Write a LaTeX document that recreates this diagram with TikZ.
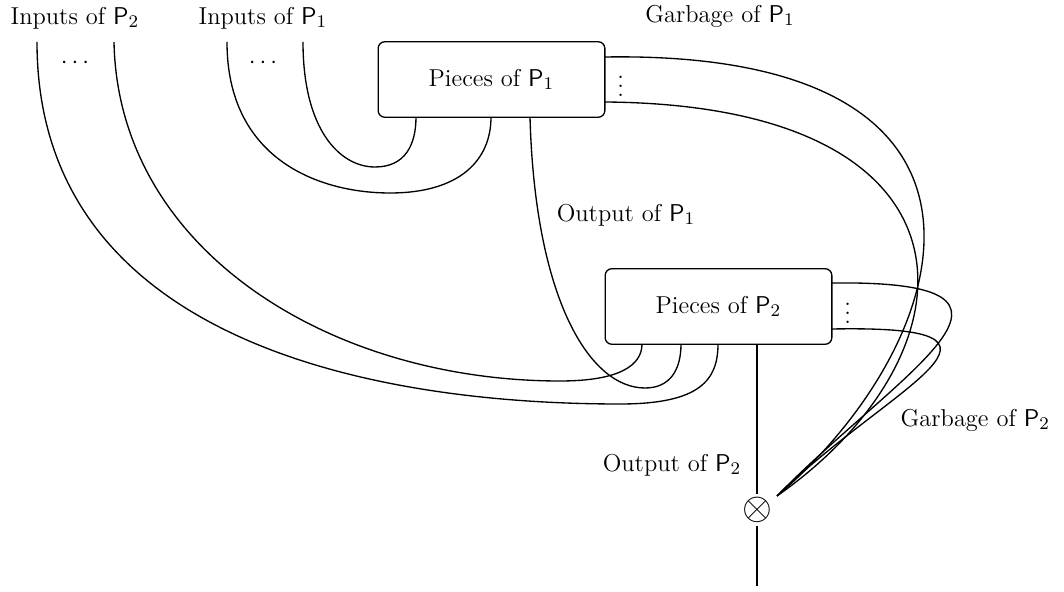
\documentclass[tikz,border=0pt]{standalone}
\usetikzlibrary{positioning}
\begin{document}
\begin{tikzpicture}[
	x=0.45pt,
	y=-0.45pt,
	font=\fontsize{11}{13}\selectfont,
	line width=0.6pt,
	kasten/.style={
		draw,
		rounded corners=3pt,
		minimum width=102pt,
		minimum height=34pt
	},
	draht/.style={
		line width=0.6pt
	},
	punkte/.style={
		inner sep=0pt
	}
]
\useasboundingbox (0,0) rectangle (1064,592);

% Beschriftungen oben
\node (INP2) at (75,18) {Inputs of $\mathsf{P}_2$};
\node (INP1) at (263,18) {Inputs of $\mathsf{P}_1$};
\node (GARB1) at (720,16) {Garbage of $\mathsf{P}_1$};

% Kaesten
\node[kasten] (P1) at (491.5,79.5) {Pieces of $\mathsf{P}_1$};
\node[kasten] (P2) at (718.5,306.5) {Pieces of $\mathsf{P}_2$};

\node[punkte] (DOTS2) at (75,63) {$\cdots$};
\node[punkte] (DOTS1) at (263,63) {$\cdots$};
\node[punkte] (VD1) [right=5pt of P1] {$\vdots$};
\node[punkte] (VD2) [right=5pt of P2] {$\vdots$};

\node (OUT1) at (626,215) {Output of $\mathsf{P}_1$};
\node (OUT2) at (672,465) {Output of $\mathsf{P}_2$};
\node[anchor=east] (GARB2) at (1058,420) {Garbage of $\mathsf{P}_2$};

\node[inner sep=1pt, font=\fontsize{16}{16}\selectfont] (TENS) at (757,510) {$\otimes$};

% Anschluesse
\coordinate (i2a) at (37,42);
\coordinate (i2b) at (114,42);
\coordinate (i1a) at (227,42);
\coordinate (i1b) at (303,42);
\coordinate (p1a) at (416,117);
\coordinate (p1b) at (491,117);
\coordinate (p1o) at (530,117);
\coordinate (p1g) at (605,57);
\coordinate (p1h) at (605,102);
\coordinate (p2a) at (642,344);
\coordinate (p2b) at (681,344);
\coordinate (p2c) at (718,344);
\coordinate (p2o) at (757,344);
\coordinate (p2g) at (832,283);
\coordinate (p2h) at (832,329);
\coordinate (senke) at (777,496);
\coordinate (ende) at (757,586);

% Drähte
\draw[draht] (i1b) .. controls (303,130) and (340,167) .. (375,167)
	.. controls (405,167) and (416,145) .. (p1a);
\draw[draht] (i1a) .. controls (227,160) and (320,193) .. (390,193)
	.. controls (460,193) and (491,160) .. (p1b);
\draw[draht] (i2b) .. controls (118,250) and (330,381) .. (560,381)
	.. controls (620,381) and (642,365) .. (p2a);
\draw[draht] (i2a) .. controls (37,330) and (350,404) .. (620,404)
	.. controls (700,404) and (718,380) .. (p2c);
\draw[draht] (p1o) .. controls (535,300) and (590,388) .. (645,388)
	.. controls (670,388) and (681,370) .. (p2b);

\draw[draht] (p1g) .. controls (1040,50) and (960,340) .. (senke);
\draw[draht] (p1h) .. controls (990,105) and (985,350) .. (senke);
\draw[draht] (p2g) .. controls (1070,280) and (900,370) .. (senke);
\draw[draht] (p2h) .. controls (1050,325) and (890,385) .. (senke);

\draw[draht] (p2o) -- (TENS.north);
\draw[draht] (TENS.south) -- (ende);

\end{tikzpicture}
\end{document}
